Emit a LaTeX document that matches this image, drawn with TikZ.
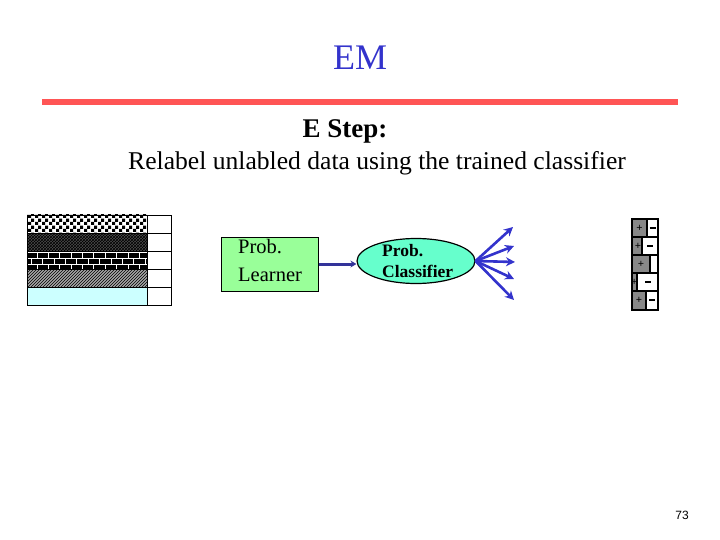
\documentclass[tikz,border=0pt]{standalone}
\usepackage{fontspec}
\setmainfont{Liberation Serif}
\newfontfamily\arialf{Liberation Sans}
\usetikzlibrary{patterns,patterns.meta,arrows.meta,shapes.geometric}
\definecolor{titleblue}{HTML}{3333CC}
\definecolor{rulered}{HTML}{FF5555}
\definecolor{lgreen}{HTML}{99FF99}
\definecolor{aqua}{HTML}{66FFCC}
\definecolor{navy}{HTML}{333399}
\definecolor{lcyan}{HTML}{CCFFFF}
\definecolor{gbox}{HTML}{888888}
\tikzdeclarepattern{
  name=finecheck,
  type=uncolored,
  bottom left={(0pt,0pt)},
  top right={(7pt,7pt)},
  tile size={(7pt,7pt)},
  code={
    \pgfpathrectangle{\pgfpointorigin}{\pgfpoint{3.5pt}{3.5pt}}
    \pgfpathrectangle{\pgfpoint{3.5pt}{3.5pt}}{\pgfpoint{3.5pt}{3.5pt}}
    \pgfusepath{fill}
  }
}
\tikzset{
  cell/.style={draw=black, line width=0.6pt},
  fanarrow/.style={draw=titleblue, line width=2.6pt, -{Stealth[length=9pt,width=9pt]}},
  posbox/.style={draw=black, line width=2pt, fill=gbox},
  negbox/.style={draw=black, line width=2pt, fill=white},
  sign/.style={font=\fontsize{11}{11}\selectfont\bfseries, inner sep=0pt},
  minus/.style={inner sep=0pt},
}
\begin{document}
\begin{tikzpicture}[x=1pt,y=-1pt]
\useasboundingbox (0,0) rectangle (720,540);
% title
\node[text=titleblue, font=\fontsize{36}{36}\selectfont] (title) at (360,58) {EM};
\draw[rulered, line width=6.5pt] (42,102) -- (678,102);
\node[font=\fontsize{27}{27}\selectfont\bfseries] (estep) at (345,131) {E Step:};
\node[font=\fontsize{25.6}{25.6}\selectfont] (sub) at (377,163) {Relabel unlabled data using the trained classifier};
% data table
\fill[white] (27,215) rectangle (147,233);
\path[pattern=finecheck, pattern color=black] (27,215) rectangle (147,233);
\fill[black!70] (27,233) rectangle (147,251);
\path[pattern=crosshatch, pattern color=black] (27,233) rectangle (147,251);
\fill[black] (27,251) rectangle (147,269);
\path[pattern=bricks, pattern color=white] (27,251) rectangle (147,269);
\fill[black!35] (27,269) rectangle (147,287);
\path[pattern=north east lines, pattern color=black] (27,269) rectangle (147,287);
\fill[lcyan] (27,287) rectangle (147,305);
\foreach \y in {215,233,251,269,287} {
  \draw[cell] (27,\y) rectangle (147,\y+18);
  \draw[cell] (147,\y) rectangle (171,\y+18);
}
% learner
\node[draw=black, line width=1pt, fill=lgreen, minimum width=97pt, minimum height=54pt, inner sep=0pt] (learner) at (269.5,264) {};
\node[anchor=base west, align=left, font=\fontsize{20.5}{27.5}\selectfont, inner sep=0pt] (ltext) at (238,281) {Prob.\\Learner};
% classifier
\node[draw=black, line width=1.2pt, fill=aqua, ellipse, minimum width=118pt, minimum height=45pt, inner sep=0pt] (clf) at (416,261) {};
\node[anchor=base west, align=left, font=\fontsize{17.5}{21}\selectfont\bfseries, inner sep=0pt] (ctext) at (382,277) {Prob.\\Classifier};
\draw[navy, line width=3pt, -{Stealth[length=6pt,width=7pt]}] (learner.east) -- (clf.west |- learner.east);
% fan
\coordinate (f0) at (clf.east);
\coordinate (e1) at (513,227);
\coordinate (e2) at (514,246);
\coordinate (e3) at (515,262);
\coordinate (e4) at (514,279);
\coordinate (e5) at (514,300);
\foreach \e in {e1,e2,e3,e4,e5} \draw[fanarrow] (f0) -- (\e);
% result column
\draw[posbox] (632,219) rectangle (647,237);
\draw[negbox] (647,219) rectangle (658,237);
\node[sign] at (639.5,228) {+};
\node[minus] at (652.5,228) {\rule{6pt}{2pt}};
\draw[posbox] (632,237) rectangle (642,255);
\draw[negbox] (642,237) rectangle (658,255);
\node[sign] at (638,246) {+};
\node[minus] at (650,246) {\rule{6pt}{2pt}};
\draw[posbox] (632,255) rectangle (650,273);
\draw[negbox] (650,255) rectangle (658,273);
\node[sign] at (641,264) {+};
\draw[posbox] (632,273) rectangle (636.5,291);
\draw[negbox] (636.5,273) rectangle (658,291);
\node[sign] at (634.3,282) {+};
\node[minus] at (648,282) {\rule{6pt}{2pt}};
\draw[posbox] (632,291) rectangle (646,310);
\draw[negbox] (646,291) rectangle (658,310);
\node[sign] at (639,300) {+};
\node[minus] at (652,300) {\rule{6pt}{2pt}};
% page number
\node[font=\arialf\fontsize{12}{12}\selectfont] (pg) at (682,515) {73};
\end{tikzpicture}
\end{document}
